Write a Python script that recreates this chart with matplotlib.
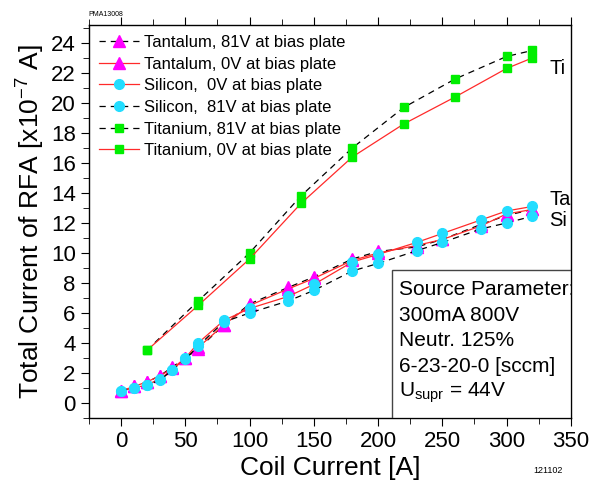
import matplotlib
matplotlib.use("Agg")
import matplotlib.pyplot as plt
from matplotlib.patches import Rectangle

plt.rcParams['font.family'] = ['Liberation Sans', 'DejaVu Sans']
plt.rcParams['mathtext.default'] = 'regular'

# coil current [A]
coil_tasi = [0, 10, 20, 30, 40, 50, 60, 80, 100, 130, 150, 180, 200, 230, 250, 280, 300, 320]
coil_ti = [20, 60, 100, 140, 180, 220, 260, 300, 320]

# RFA current [x1e-7 A]
ta_81 = [0.8, 1.1, 1.4, 1.8, 2.4, 3.0, 3.6, 5.2, 6.6, 7.7, 8.4, 9.6, 10.1, 10.4, 10.9, 11.9, 12.5, 12.9]
ta_0 = [0.8, 1.1, 1.4, 1.8, 2.3, 3.0, 3.7, 5.2, 6.5, 7.6, 8.3, 9.5, 10.0, 10.5, 10.9, 11.8, 12.6, 12.9]
si_0 = [0.8, 1.0, 1.2, 1.6, 2.2, 3.0, 4.0, 5.5, 6.3, 7.1, 7.9, 9.4, 9.9, 10.7, 11.3, 12.2, 12.8, 13.1]
si_81 = [0.8, 1.0, 1.2, 1.5, 2.2, 2.9, 3.8, 5.4, 6.0, 6.8, 7.5, 8.8, 9.3, 10.15, 10.7, 11.6, 12.0, 12.45]
ti_81 = [3.5, 6.8, 10.0, 13.8, 17.0, 19.7, 21.6, 23.1, 23.5]
ti_0 = [3.5, 6.5, 9.6, 13.3, 16.4, 18.6, 20.4, 22.3, 23.0]

red = '#ff2a2a'
mag = '#ff00ff'
cyan = '#22ddff'
green = '#00ee00'
dash = (0, (5, 4))

fig = plt.figure(figsize=(5.89, 4.90), dpi=100)
ax = fig.add_axes([0.151, 0.147, 0.818, 0.802])

ax.plot(coil_tasi, ta_81, color='black', ls=dash, lw=0.9, marker='^', ms=8.5, mfc=mag, mec=mag,
        label='Tantalum, 81V at bias plate')
ax.plot(coil_tasi, ta_0, color=red, lw=0.9, marker='^', ms=8.5, mfc=mag, mec=mag,
        label='Tantalum, 0V at bias plate')
ax.plot(coil_tasi, si_0, color=red, lw=0.9, marker='o', ms=7, mfc=cyan, mec=cyan,
        label='Silicon,  0V at bias plate')
ax.plot(coil_tasi, si_81, color='black', ls=dash, lw=0.9, marker='o', ms=7, mfc=cyan, mec=cyan,
        label='Silicon,  81V at bias plate')
ax.plot(coil_ti, ti_81, color='black', ls=dash, lw=0.9, marker='s', ms=6, mfc=green, mec=green,
        label='Titanium, 81V at bias plate')
ax.plot(coil_ti, ti_0, color=red, lw=0.9, marker='s', ms=6, mfc=green, mec=green,
        label='Titanium, 0V at bias plate')

ax.set_xlim(-25, 350)
ax.set_ylim(-1, 25.2)
ax.set_xticks(range(0, 351, 50))
ax.set_xticks(range(-25, 351, 25), minor=True)
ax.set_yticks(range(0, 25, 2))
ax.set_yticks(range(-1, 26, 1), minor=True)
ax.tick_params(which='both', direction='out', top=True, right=False, labelsize=16)
ax.tick_params(which='major', length=6)
ax.tick_params(which='minor', length=4)
for s in ax.spines.values():
    s.set_linewidth(1.0)

ax.set_xlabel('Coil Current [A]', fontsize=19, labelpad=3)
ax.set_ylabel('Total Current of RFA [x10$^{-7}$ A]', fontsize=19, labelpad=3)

ax.legend(loc='upper left', frameon=False, fontsize=12, numpoints=1, handlelength=2.4,
          handletextpad=0.3, labelspacing=0.4, borderaxespad=0.2, bbox_to_anchor=(0.0, 1.0))

# parameter box
ax.add_patch(Rectangle((0.629, 0.0), 0.371, 0.377, transform=ax.transAxes,
                       facecolor='white', edgecolor='#444444', lw=1.0, zorder=5))
box_lines = ['Source Parameter:', '300mA 800V', 'Neutr. 125%', '6-23-20-0 [sccm]',
             'U$_{supr}$ = 44V']
for i, t in enumerate(box_lines):
    ax.text(0.643, 0.328 - i * 0.066, t, transform=ax.transAxes, fontsize=15,
            va='center', ha='left', zorder=6, clip_on=True)

ax.text(0.955, 0.89, 'Ti', transform=ax.transAxes, fontsize=14.5, va='center')
ax.text(0.955, 0.555, 'Ta', transform=ax.transAxes, fontsize=14.5, va='center')
ax.text(0.955, 0.503, 'Si', transform=ax.transAxes, fontsize=14.5, va='center')

fig.text(0.150, 0.971, 'PMA13008', fontsize=5, ha='left', va='center')
fig.text(0.930, 0.040, '121102', fontsize=6.5, ha='center', va='center')

fig.savefig('out.png', dpi=100)
